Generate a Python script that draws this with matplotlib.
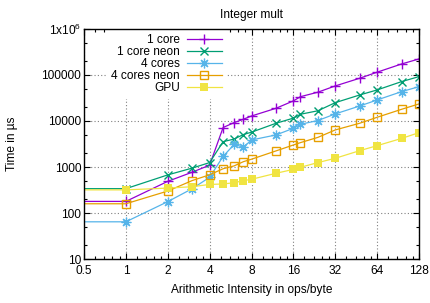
import matplotlib
matplotlib.use("Agg")
import matplotlib.pyplot as plt
from matplotlib.ticker import FixedLocator, FixedFormatter, NullFormatter
import numpy as np

plt.rcParams['font.family'] = ['Liberation Sans', 'DejaVu Sans']
plt.rcParams['mathtext.default'] = 'regular'

# x = arithmetic intensity (ops/byte); first point lies left of the visible range
intensity = [0.25, 1, 2, 3, 4, 5, 6, 7, 8, 12, 16, 18, 24, 32, 48, 64, 96, 128]

one_core = [180, 180, 490, 775, 1100, 7200, 9200, 10900, 12800, 18800, 27200, 33600,
            42000, 57400, 84400, 114000, 172000, 221000]
one_core_neon = [340, 340, 676, 950, 1250, 3550, 4050, 5080, 5700, 8900, 11500, 13970,
                 16600, 24900, 36600, 47000, 71300, 91400]
four_cores = [65, 65, 178, 340, 600, 1700, 3100, 2700, 3870, 4970, 6920, 8470,
              10200, 14200, 21100, 28500, 43200, 55400]
four_cores_neon = [160, 160, 302, 510, 680, 920, 1060, 1310, 1480, 2240, 3010, 3390,
                   4400, 6380, 8920, 12000, 17900, 23400]
gpu = [320, 320, 350, 375, 420, 430, 457, 507, 543, 733, 890, 990,
       1250, 1550, 2270, 2910, 4180, 5570]

series_labels = ["1 core", "1 core neon", "4 cores", "4 cores neon", "GPU"]
series_values = [one_core, one_core_neon, four_cores, four_cores_neon, gpu]
colors = ["#9400d3", "#009e73", "#56b4e9", "#e69f00", "#f0e442"]

xtick_values = [0.5, 1, 2, 4, 8, 16, 32, 64, 128]
xtick_labels = ["0.5", "1", "2", "4", "8", "16", "32", "64", "128"]
ytick_values = [10, 100, 1000, 10000, 100000, 1000000]
ytick_labels = ["10", "100", "1000", "10000", "100000", "1x10$^{6}$"]

fig = plt.figure(figsize=(4.30, 3.03), dpi=100)
ax = fig.add_axes([84/430, 1-259.3/303, (419-84)/430, (259.3-28.7)/303])

styles = [
    dict(marker='+', markersize=7, markeredgewidth=1.0),
    dict(marker='x', markersize=6, markeredgewidth=1.0),
    dict(marker=(8, 2, 0), markersize=7, markeredgewidth=0.9),
    dict(marker='s', markersize=5.2, markerfacecolor='none', markeredgewidth=1.0),
    dict(marker='s', markersize=5.2, markeredgewidth=0),
]

for lab, vals, col, st in zip(series_labels, series_values, colors, styles):
    ax.plot(intensity, vals, color=col, lw=0.9, label=lab, markeredgecolor=col,
            zorder=3, **st)

ax.set_xscale('log', base=2)
ax.set_yscale('log')
ax.set_xlim(0.5, 128)
ax.set_ylim(10, 1e6)

ax.xaxis.set_major_locator(FixedLocator(xtick_values))
ax.xaxis.set_major_formatter(FixedFormatter(xtick_labels))
xminor = []
for lo in xtick_values[:-1]:
    for k in range(1, 5):
        xminor.append(lo * (1 + k / 5))
ax.xaxis.set_minor_locator(FixedLocator(xminor))
ax.xaxis.set_minor_formatter(NullFormatter())

ax.yaxis.set_major_locator(FixedLocator(ytick_values))
ax.yaxis.set_major_formatter(FixedFormatter(ytick_labels))
yminor = []
for lo in ytick_values[:-1]:
    yminor += [2 * lo, 5 * lo]
ax.yaxis.set_minor_locator(FixedLocator(yminor))
ax.yaxis.set_minor_formatter(NullFormatter())

ax.tick_params(which='both', direction='in', top=True, right=True, labelsize=8.6,
               colors='black', width=0.8)
ax.tick_params(which='major', length=4)
ax.tick_params(which='minor', length=2.2)
ax.tick_params(axis='x', pad=4)
ax.tick_params(axis='y', pad=2)
for s in ax.spines.values():
    s.set_linewidth(1.0)
    s.set_zorder(5)

ax.grid(True, which='major', color='#808080', linestyle=(0, (1, 2)), linewidth=0.8)
ax.set_axisbelow(True)

ax.set_title("Integer mult", fontsize=8.6, pad=8)
ax.set_xlabel("Arithmetic Intensity in ops/byte", fontsize=8.6, labelpad=5)
ax.set_ylabel("Time in µs", fontsize=8.6, va='center')
ax.yaxis.set_label_coords((12 - 84) / 335, 0.5)

leg = ax.legend(loc='upper right', bbox_to_anchor=((227-84)/335, 1.0), markerfirst=False,
                frameon=True, fancybox=False, edgecolor='none', facecolor='white',
                framealpha=1.0, fontsize=8.6, handlelength=2.9, handletextpad=0.6,
                labelspacing=0.0, borderpad=0.45, borderaxespad=0.0)
leg.set_zorder(4)

fig.savefig("out.png", dpi=100)
